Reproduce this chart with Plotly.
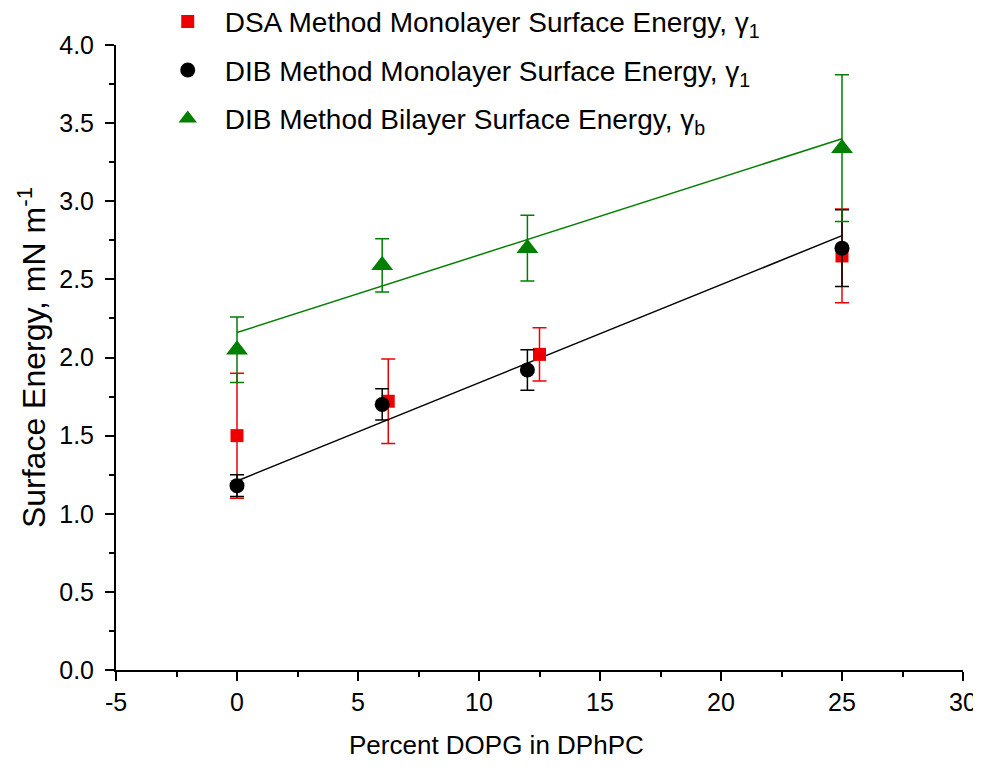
import plotly.graph_objects as go

# Data
dsa_x = [0, 6.25, 12.5, 25]
dsa_y = [1.50, 1.72, 2.02, 2.65]
dsa_err = [0.40, 0.27, 0.17, 0.30]

dib_mono_x = [0, 6, 12, 25]
dib_mono_y = [1.18, 1.70, 1.92, 2.70]
dib_mono_err = [0.07, 0.10, 0.13, 0.245]

dib_bi_x = [0, 6, 12, 25]
dib_bi_y = [2.05, 2.59, 2.70, 3.34]
dib_bi_err = [0.21, 0.17, 0.21, 0.47]

fit_x = [0, 25]
fit_mono_y = [1.21, 2.78]
fit_bi_y = [2.16, 3.40]

x_tick_vals = [-5, 0, 5, 10, 15, 20, 25, 30]
x_tick_text = ["-5", "0", "5", "10", "15", "20", "25", "30"]

RED = "#ee0000"
BLACK = "#000000"
GREEN = "#007f00"
FONT = "Liberation Sans, Arial, sans-serif"

fig = go.Figure()

fig.add_trace(go.Scatter(x=fit_x, y=fit_mono_y, mode="lines",
                         line=dict(color=BLACK, width=1.5), showlegend=False, hoverinfo="skip"))
fig.add_trace(go.Scatter(x=fit_x, y=fit_bi_y, mode="lines",
                         line=dict(color=GREEN, width=1.5), showlegend=False, hoverinfo="skip"))

fig.add_trace(go.Scatter(
    x=dsa_x, y=dsa_y, mode="markers",
    name="DSA Method Monolayer Surface Energy, γ<sub>1</sub>",
    legendgroup="a",
    marker=dict(symbol="square", size=13, color=RED),
    error_y=dict(type="data", array=dsa_err, color=RED, thickness=1.5, width=7)))
fig.add_trace(go.Scatter(
    x=dib_mono_x, y=dib_mono_y, mode="markers",
    name="DIB Method Monolayer Surface Energy, γ<sub>1</sub>",
    legendgroup="b",
    marker=dict(symbol="circle", size=15, color=BLACK),
    error_y=dict(type="data", array=dib_mono_err, color=BLACK, thickness=1.5, width=7)))
fig.add_trace(go.Scatter(
    x=dib_bi_x, y=dib_bi_y, mode="markers",
    name="DIB Method Bilayer Surface Energy, γ<sub>b</sub>",
    legendgroup="c",
    marker=dict(symbol="triangle-up", size=19, color=GREEN),
    error_y=dict(type="data", array=dib_bi_err, color=GREEN, thickness=1.5, width=7)))

axis_common = dict(
    showline=True, linecolor="black", linewidth=2, mirror=False,
    ticks="outside", ticklen=9, tickwidth=2, tickcolor="black",
    showgrid=False, zeroline=False,
    tickfont=dict(family=FONT, size=25, color="black"),
)

fig.update_xaxes(range=[-5, 30], tickvals=x_tick_vals, ticktext=x_tick_text,
                 minor=dict(ticks="outside", ticklen=5, tickwidth=2, tickcolor="black", dtick=2.5, tick0=-5),
                 **axis_common)
fig.update_yaxes(range=[0, 4.0], tick0=0, dtick=0.5, tickformat=".1f",
                 minor=dict(ticks="outside", ticklen=5, tickwidth=2, tickcolor="black", dtick=0.25),
                 ticklabelstandoff=6,
                 title=dict(text="Surface Energy, mN m<sup>-1</sup>", font=dict(family=FONT, size=32, color="black"),
                            standoff=4),
                 **axis_common)

fig.add_annotation(text="Percent DOPG in DPhPC", xref="paper", yref="paper",
                   x=0.449, y=-0.12, xanchor="center", yanchor="middle", showarrow=False,
                   font=dict(family=FONT, size=26, color="black"))

fig.update_layout(
    width=981, height=772,
    margin=dict(l=108, r=26, t=37, b=110, autoexpand=False),
    plot_bgcolor="white", paper_bgcolor="white",
    showlegend=True,
    legend=dict(x=0.041, y=1.077, xanchor="left", yanchor="top",
                bgcolor="rgba(0,0,0,0)", traceorder="grouped", tracegroupgap=9,
                font=dict(family=FONT, size=28, color="black"),
                itemwidth=64),
)

fig.write_html("out.html")
